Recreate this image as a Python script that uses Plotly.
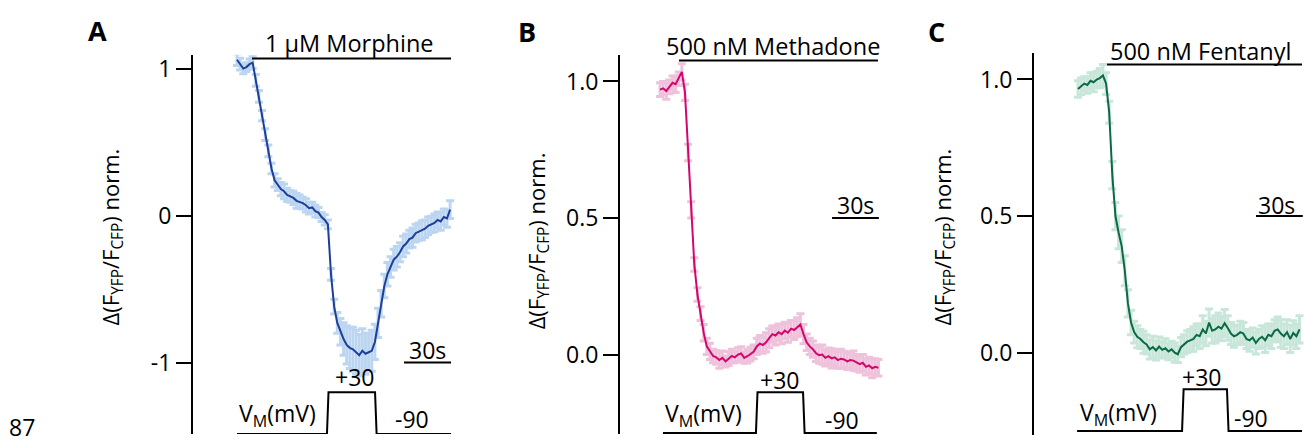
import plotly.graph_objects as go

W, H = 1308, 442
FONT = "Open Sans"

# ---------------- data (time in s, normalized FRET) ----------------
t_a = list(range(0, 137, 2))
val_a = [1.06, 1.03, 1.00, 1.01, 1.03, 1.04, 0.92, 0.81, 0.68, 0.55,
         0.44, 0.32, 0.24, 0.21, 0.18, 0.165, 0.14, 0.13, 0.12, 0.10,
         0.095, 0.085, 0.07, 0.05, 0.055, 0.03, 0.02, -0.01, -0.03, -0.06,
         -0.40, -0.62, -0.73, -0.79, -0.84, -0.88, -0.90, -0.91, -0.93, -0.95,
         -0.92, -0.94, -0.93, -0.92, -0.86, -0.73, -0.60, -0.48, -0.40, -0.35,
         -0.30, -0.28, -0.25, -0.21, -0.19, -0.16, -0.15, -0.12, -0.11, -0.10,
         -0.09, -0.07, -0.06, -0.05, -0.03, -0.04, -0.01, -0.02, 0.04]
err_a = [0.04, 0.04, 0.035, 0.03, 0.035, 0.04,
         0.04, 0.04, 0.035, 0.04, 0.04, 0.035,
         0.045, 0.04, 0.045, 0.05, 0.045, 0.04, 0.045, 0.05, 0.045, 0.04,
         0.045, 0.04, 0.035, 0.04, 0.035, 0.03, 0.035, 0.03,
         0.04, 0.05, 0.07, 0.09, 0.11,
         0.13, 0.14, 0.15, 0.15, 0.14, 0.15, 0.14, 0.13, 0.14, 0.12,
         0.10, 0.09, 0.08, 0.08, 0.07, 0.07,
         0.07, 0.065, 0.07, 0.065, 0.06, 0.065, 0.06, 0.06, 0.065, 0.06,
         0.06, 0.055, 0.06, 0.055, 0.06, 0.055, 0.06, 0.06]

t_b = list(range(0, 141, 2))
val_b = [0.97, 0.975, 0.965, 0.98, 0.995, 0.99, 1.01, 1.035, 0.96, 0.74,
         0.53, 0.33, 0.22, 0.15, 0.08, 0.03, 0.012, -0.005, -0.01, -0.02,
         -0.012, -0.025, -0.015, -0.005, -0.01, 0.0, 0.004, -0.012, -0.006, 0.002,
         0.01, 0.03, 0.04, 0.035, 0.045, 0.06, 0.075, 0.07, 0.082, 0.075,
         0.088, 0.08, 0.095, 0.09, 0.10, 0.11, 0.075, 0.045, 0.03, 0.02,
         0.005, -0.002, 0.0, -0.012, -0.006, -0.014, -0.01, -0.02, -0.015, -0.018,
         -0.025, -0.02, -0.022, -0.03, -0.035, -0.03, -0.045, -0.04, -0.05, -0.045,
         -0.048]
err_b = [0.025, 0.025, 0.03, 0.025, 0.025, 0.03, 0.025, 0.03,
         0.03, 0.03, 0.03, 0.025, 0.025, 0.025, 0.03, 0.03,
         0.03, 0.025, 0.025, 0.03, 0.025, 0.02, 0.025, 0.025, 0.02, 0.025, 0.025, 0.02, 0.025, 0.025,
         0.025, 0.03, 0.03, 0.03, 0.035, 0.035, 0.03, 0.035, 0.03, 0.035, 0.03, 0.035, 0.03, 0.035, 0.035, 0.04,
         0.035, 0.03, 0.03, 0.03, 0.03, 0.03, 0.035, 0.03, 0.03, 0.035, 0.03, 0.03, 0.035, 0.03, 0.03, 0.03,
         0.035, 0.03, 0.03, 0.03, 0.03, 0.03, 0.035, 0.03, 0.03]

t_c = list(range(0, 143, 2))
val_c = [0.965, 0.975, 0.985, 0.98, 0.995, 0.99, 1.0, 1.005, 1.015, 0.985,
         0.88, 0.65, 0.50, 0.44, 0.39, 0.30, 0.18, 0.11, 0.075, 0.058,
         0.05, 0.038, 0.03, 0.012, 0.02, 0.008, 0.022, 0.01, 0.016, 0.004,
         0.012, 0.0, -0.006, 0.02, 0.03, 0.04, 0.045, 0.05, 0.065, 0.06,
         0.085, 0.07, 0.11, 0.08, 0.085, 0.095, 0.088, 0.108, 0.09, 0.07,
         0.06, 0.065, 0.075, 0.07, 0.05, 0.045, 0.055, 0.035, 0.05, 0.058,
         0.045, 0.065, 0.06, 0.08, 0.085, 0.07, 0.06, 0.075, 0.05, 0.072,
         0.06, 0.085]
err_c = [0.03, 0.03, 0.025, 0.03, 0.03, 0.035, 0.03, 0.035, 0.04, 0.04,
         0.04, 0.05, 0.05, 0.06, 0.06, 0.055, 0.05, 0.045,
         0.04, 0.04, 0.035, 0.04, 0.035, 0.035, 0.04, 0.035, 0.035, 0.03, 0.035, 0.03, 0.03, 0.035, 0.03, 0.035,
         0.035, 0.04, 0.04, 0.045, 0.04, 0.045, 0.05, 0.045, 0.05, 0.045, 0.05, 0.05, 0.045, 0.05, 0.045, 0.04,
         0.04, 0.035, 0.04, 0.04, 0.035, 0.04, 0.035, 0.04, 0.035, 0.04, 0.045, 0.04, 0.045, 0.04, 0.045, 0.05,
         0.045, 0.045, 0.05, 0.045, 0.045, 0.05]

drugs = ["1 µM Morphine", "500 nM Methadone", "500 nM Fentanyl"]
panel_letters = ["A", "B", "C"]
drug_on = [9.6, 12.2, 18.6]          # s
drug_off = [136.6, 139.7, 143.6]     # s
step_on = [57.4, 61.5, 66.7]         # s, depolarisation to +30 mV
step_off = [88.1, 91.7, 95.5]        # s
vm_start = [0.0, 1.9, -0.6]
vm_end = [136.6, 139.0, 143.6]
v_hold, v_step = -90, 30             # mV
scale_end = [136.6, 140.3, 144.1]    # 30 s scale bar end
scale_len = 30
scale_level = [-1.0, 0.5, 0.5]
tick_vals = [[-1, 0, 1], [0, 0.5, 1.0], [0, 0.5, 1.0]]
tick_text = [["-1", "0", "1"], ["0.0", "0.5", "1.0"], ["0.0", "0.5", "1.0"]]

line_colors = ["#1d3f98", "#d4066d", "#0b6a44"]
err_colors = ["#bcd6f1", "#efc2dc", "#c8e6da"]

# ---------------- layout geometry (pixels) ----------------
axis_px = [193, 620, 1034]       # y-axis line x
x0_px = [237, 660, 1078]         # t = 0 position
right_px = [456, 883, 1306]
pps = [1.567, 1.56, 1.56]        # px per second
ax_top = [52, 52, 50]
ax_bot = [434, 434, 435]
zero_px = [214, 354, 352]        # pixel of value 0
upp = [148, 275, 275]            # px per unit
v_base_px = [434, 433, 431]
v_high_px = [392, 392, 389]


def px(x):
    return x / W


def py(y):
    return 1 - y / H


fig = go.Figure()
series = [(t_a, val_a, err_a), (t_b, val_b, err_b), (t_c, val_c, err_c)]
for i, (t, v, e) in enumerate(series):
    assert len(t) == len(v) == len(e), (i, len(t), len(v), len(e))
    sfx = "" if i == 0 else str(i + 1)
    xa, ya = "x" + sfx, "y" + sfx
    fig.add_trace(go.Scatter(
        x=t, y=v, mode="markers", marker=dict(size=1, opacity=0),
        error_y=dict(type="data", array=e, color=err_colors[i], thickness=3, width=4),
        xaxis=xa, yaxis=ya, showlegend=False, hoverinfo="skip"))
    fig.add_trace(go.Scatter(
        x=t, y=v, mode="lines", line=dict(color=line_colors[i], width=2),
        xaxis=xa, yaxis=ya, showlegend=False))
    # voltage protocol
    vy = "y" + str(i + 4)
    vt = [vm_start[i], step_on[i], step_on[i] + 1.0, step_off[i], step_off[i] + 1.0, vm_end[i]]
    vv = [v_hold, v_hold, v_step, v_step, v_hold, v_hold]
    fig.add_trace(go.Scatter(x=vt, y=vv, mode="lines", line=dict(color="black", width=2),
                             xaxis=xa, yaxis=vy, showlegend=False))

layout = dict(width=W, height=H, margin=dict(l=0, r=0, t=0, b=0),
              paper_bgcolor="white", plot_bgcolor="white",
              font=dict(family=FONT, size=22, color="black"))
annotations = []
shapes = []
for i in range(3):
    sfx = "" if i == 0 else str(i + 1)
    xd = [px(axis_px[i]), px(right_px[i])]
    yd = [py(ax_bot[i]), py(ax_top[i])]
    xr = [(axis_px[i] - x0_px[i]) / pps[i], (right_px[i] - x0_px[i]) / pps[i]]
    yr = [(zero_px[i] - ax_bot[i]) / upp[i], (zero_px[i] - ax_top[i]) / upp[i]]
    layout["xaxis" + sfx] = dict(domain=xd, range=xr, visible=False, anchor="y" + sfx)
    layout["yaxis" + sfx] = dict(domain=yd, range=yr, anchor="x" + sfx,
                                 showline=True, linecolor="black", linewidth=2,
                                 ticks="outside", ticklen=15, tickwidth=2, tickcolor="black",
                                 tickvals=tick_vals[i], ticktext=tick_text[i],
                                 showgrid=False, zeroline=False,
                                 tickfont=dict(family=FONT, size=23, color="black"))
    mpp = (v_step - v_hold) / (v_base_px[i] - v_high_px[i])
    vr = [v_hold - (ax_bot[i] - v_base_px[i]) * mpp, v_hold + (v_base_px[i] - ax_top[i]) * mpp]
    layout["yaxis" + str(i + 4)] = dict(domain=yd, range=vr, overlaying="y" + sfx,
                                        anchor="x" + sfx, visible=False)
    xref = "x" + sfx
    # drug bar
    drug_y = [56, 58, 62][i]
    shapes.append(dict(type="line", xref=xref, yref="paper", x0=drug_on[i], x1=drug_off[i],
                       y0=py(drug_y), y1=py(drug_y), line=dict(color="black", width=2)))
    # scale bar
    shapes.append(dict(type="line", xref=xref, yref="y" + sfx, x0=scale_end[i] - scale_len,
                       x1=scale_end[i], y0=scale_level[i], y1=scale_level[i],
                       line=dict(color="black", width=2)))


# text annotations (pixel positions)
def ann(text, x, y, size=23, bold=False, angle=0, xanchor="center"):
    t = "<b>%s</b>" % text if bold else text
    annotations.append(dict(text=t, x=px(x), y=py(y), xref="paper", yref="paper",
                            showarrow=False, xanchor=xanchor, yanchor="middle",
                            textangle=angle, font=dict(family=FONT, size=size, color="black")))


letter_pos = [(97, 28), (527, 29), (936, 29)]
drug_txt_pos = [(349, 40), (773, 43), (1200, 48)]
scale_txt_pos = [(427, 349), (855, 203), (1276, 203)]
plus_pos = [(354, 377), (779, 380), (1201, 377)]
minus_pos = [(412, 419), (842, 420), (1251, 418)]
vm_pos = [(237, 414), (663, 414), (1078, 413)]
ytitle_pos = [(112, 236), (538, 240), (944, 236)]
for i in range(3):
    ann(panel_letters[i], *letter_pos[i], size=27, bold=True)
    ann(drugs[i], *drug_txt_pos[i], size=23.5)
    ann("30s", *scale_txt_pos[i])
    ann("+30", *plus_pos[i])
    ann("-90", *minus_pos[i])
    ann("V<sub>M</sub>(mV)", *vm_pos[i], xanchor="left")
    ann("Δ(F<sub>YFP</sub>/F<sub>CFP</sub>) norm.", *ytitle_pos[i], size=22, angle=-90)
ann("87", 22, 427)

layout["annotations"] = annotations
layout["shapes"] = shapes
fig.update_layout(**layout)
fig.write_html("out.html", config={"displayModeBar": False})

# remove the default page margin so the figure sits at the window's top-left corner
with open("out.html", encoding="utf-8") as f:
    html = f.read()
html = html.replace("<head>", "<head><style>html,body{margin:0;padding:0;overflow:hidden;}</style>", 1)
with open("out.html", "w", encoding="utf-8") as f:
    f.write(html)
